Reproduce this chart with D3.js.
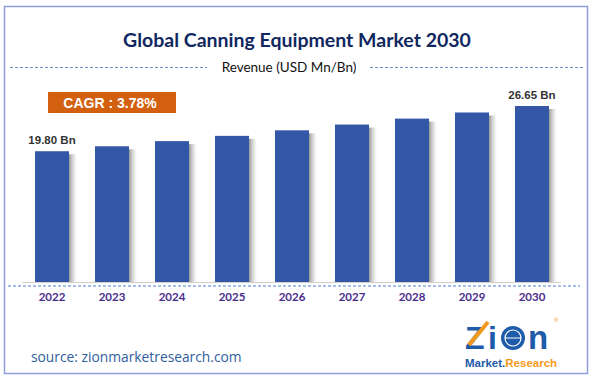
<!DOCTYPE html>
<html><head><meta charset="utf-8">
<script src="https://cdn.jsdelivr.net/npm/d3@7"></script>
<style>body{margin:0;background:#fff}svg{display:block}</style>
</head><body>
<script>
const years = ["2022","2023","2024","2025","2026","2027","2028","2029","2030"];
const revenue = [19.80, 20.55, 21.33, 22.13, 22.97, 23.84, 24.74, 25.67, 26.65];
const labelled = {"2022":"19.80 Bn","2030":"26.65 Bn"};
const titleText = "Global Canning Equipment Market 2030";
const subtitleText = "Revenue (USD Mn/Bn)";
const cagrText = "CAGR : 3.78%";
const sourceText = "source: zionmarketresearch.com";

const W = 596, H = 382;
const svg = d3.select("body").append("svg").attr("width", W).attr("height", H);
const defs = svg.append("defs");
const g = defs.append("linearGradient").attr("id","shadow").attr("x1","0").attr("x2","1");
g.append("stop").attr("offset","0").attr("stop-color","#777").attr("stop-opacity",0.75);
g.append("stop").attr("offset","1").attr("stop-color","#bbb").attr("stop-opacity",0);

// frame
svg.append("rect").attr("x",4.5).attr("y",6.5).attr("width",583).attr("height",367)
  .attr("fill","#fff").attr("stroke","#8E9FDB").attr("stroke-width",1.5);

// title
svg.append("text").attr("x",297).attr("y",47).attr("text-anchor","middle")
  .attr("font-family","Lato").attr("font-weight","bold").attr("font-size",19.5)
  .attr("fill","#10275F").text(titleText);

// subtitle with dashed lines
svg.append("line").attr("x1",10).attr("x2",207).attr("y1",67.5).attr("y2",67.5)
  .attr("stroke","#6E8CC8").attr("stroke-dasharray","3,2").attr("stroke-width",1);
svg.append("line").attr("x1",370).attr("x2",585).attr("y1",67.5).attr("y2",67.5)
  .attr("stroke","#6E8CC8").attr("stroke-dasharray","3,2").attr("stroke-width",1);
svg.append("text").attr("x",289).attr("y",72).attr("text-anchor","middle")
  .attr("font-family","Lato").attr("font-size",13.5).attr("fill","#111").text(subtitleText);

// scales
const x = d3.scaleBand().domain(years).range([22, 562]).paddingInner(0.433).paddingOuter(0.217);
const y = d3.scaleLinear().domain([0, 26.65]).range([282, 106]);

// baseline
svg.append("line").attr("x1",22).attr("x2",561).attr("y1",282.5).attr("y2",282.5)
  .attr("stroke","#D0D0D0").attr("stroke-width",1);

// shadows
svg.selectAll("rect.sh").data(years).enter().append("rect").attr("class","sh")
  .attr("x", d => x(d) + x.bandwidth())
  .attr("y", (d,i) => y(revenue[i]) + 3)
  .attr("width", 8)
  .attr("height", (d,i) => 282 - y(revenue[i]) - 3)
  .attr("fill","url(#shadow)");

// bars
svg.selectAll("rect.bar").data(years).enter().append("rect").attr("class","bar")
  .attr("x", d => x(d)).attr("width", x.bandwidth())
  .attr("y", (d,i) => y(revenue[i]))
  .attr("height", (d,i) => 282 - y(revenue[i]))
  .attr("fill","#3356A6");

// value labels
years.forEach((d,i) => {
  if (labelled[d]) {
    svg.append("text").attr("x", x(d) + x.bandwidth()/2).attr("y", y(revenue[i]) - 7)
      .attr("text-anchor","middle").attr("font-family","Liberation Sans").attr("font-weight","bold")
      .attr("font-size",11.5).attr("fill","#333").text(labelled[d]);
  }
});

// dashed axis line
svg.append("line").attr("x1",8).attr("x2",580).attr("y1",286).attr("y2",286)
  .attr("stroke","#4F7FD0").attr("stroke-dasharray","3,2").attr("stroke-width",1);

// x axis labels via axis
const ax = svg.append("g").attr("transform","translate(0,286)")
  .call(d3.axisBottom(x).tickSize(0).tickPadding(7));
ax.select(".domain").remove();
ax.selectAll("text").attr("font-family","Lato").attr("font-weight","bold")
  .attr("font-size",11.5).attr("fill","#4A2C8C");

// CAGR box
svg.append("rect").attr("x",48).attr("y",92).attr("width",128).attr("height",21).attr("fill","#D2600E");
svg.append("text").attr("x",110).attr("y",107.5).attr("text-anchor","middle")
  .attr("font-family","Liberation Sans").attr("font-weight","bold").attr("font-size",14)
  .attr("fill","#fff").text(cagrText);

// source
svg.append("text").attr("x",31).attr("y",362).attr("font-family","Open Sans")
  .attr("font-size",13.8).attr("fill","#2F5E9E").text(sourceText);

// logo
const logo = svg.append("g");
logo.append("text").attr("x",465).attr("y",349).attr("font-family","Liberation Sans")
  .attr("font-weight","bold").attr("font-size",32).attr("fill","#1E5BA8").text("Z");
logo.append("line").attr("x1",469).attr("y1",345).attr("x2",488).attr("y2",322)
  .attr("stroke","#F39A1E").attr("stroke-width",4);
logo.append("text").attr("x",488).attr("y",349).attr("font-family","Liberation Sans")
  .attr("font-weight","bold").attr("font-size",32).attr("fill","#1E5BA8").text("i");
logo.append("circle").attr("cx",513).attr("cy",338).attr("r",12).attr("fill","#1E5BA8");
logo.append("circle").attr("cx",513).attr("cy",338).attr("r",8).attr("fill","none").attr("stroke","#fff").attr("stroke-width",1.2);
logo.append("line").attr("x1",505).attr("x2",521).attr("y1",338).attr("y2",338).attr("stroke","#fff").attr("stroke-width",1);
logo.append("text").attr("x",528).attr("y",349).attr("font-family","Liberation Sans")
  .attr("font-weight","bold").attr("font-size",33).attr("fill","#1E5BA8").text("n");
logo.append("text").attr("x",554).attr("y",322).attr("font-family","Liberation Sans")
  .attr("font-size",6).attr("fill","#F39A1E").text("®");
const lt = logo.append("text").attr("x",465).attr("y",367).attr("font-family","Liberation Sans")
  .attr("font-weight","bold").attr("font-size",11.5);
lt.append("tspan").attr("fill","#1E5BA8").text("Market.");
lt.append("tspan").attr("fill","#F39A1E").text("Research");
</script>
</body></html>
